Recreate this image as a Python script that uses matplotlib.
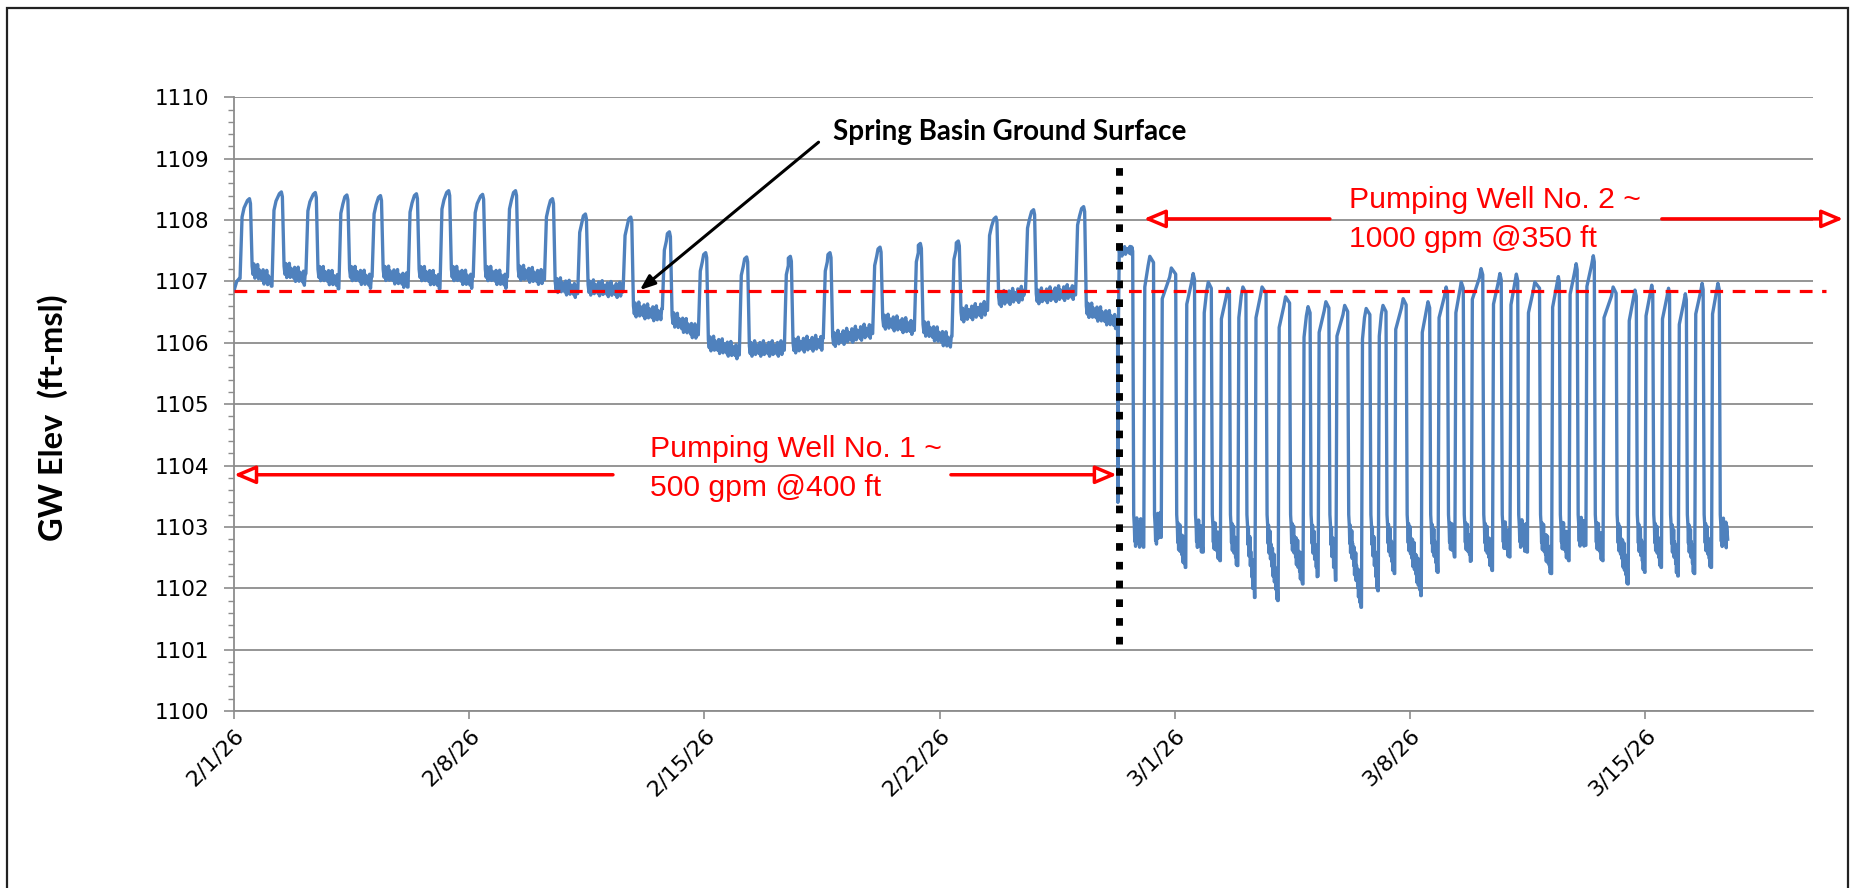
import numpy as np
import matplotlib.pyplot as plt
import matplotlib.dates as mdates
from matplotlib.patches import Rectangle
from datetime import datetime

plt.rcParams['font.family'] = ['DejaVu Sans']

T0 = mdates.date2num(datetime(2026, 2, 1))

# ---- Pumping Well No. 1 period: one recovery peak a day (days after 2/1/26) ----
p1_rise = [0.2, 1.15, 2.16, 3.14, 4.13, 5.2, 6.15, 7.14, 8.16, 9.26, 10.25, 11.6,
           12.77, 13.84, 15.06, 16.4, 17.56, 19.03, 20.27, 21.39, 22.45, 23.58, 25.07]
p1_drop = [0.5, 1.45, 2.46, 3.4, 4.4, 5.47, 6.43, 7.44, 8.42, 9.52, 10.5, 11.85,
           13.0, 14.08, 15.3, 16.6, 17.78, 19.27, 20.47, 21.6, 22.72, 23.84, 25.33]
p1_top = [1108.35, 1108.46, 1108.45, 1108.41, 1108.4, 1108.43, 1108.48, 1108.42,
          1108.48, 1108.35, 1108.1, 1108.05, 1107.81, 1107.47, 1107.4, 1107.41,
          1107.47, 1107.56, 1107.62, 1107.66, 1108.05, 1108.17, 1108.22]
p1_base_start = [1107.25, 1107.25, 1107.2, 1107.2, 1107.2, 1107.2, 1107.2, 1107.2,
                 1107.2, 1107.0, 1106.95, 1106.6, 1106.45, 1106.05, 1105.95, 1106.0,
                 1106.1, 1106.4, 1106.3, 1106.5, 1106.75, 1106.8, 1106.6]
p1_base_end = [1107.05, 1107.1, 1107.05, 1107.05, 1107.05, 1107.05, 1107.05, 1107.05,
               1107.1, 1106.9, 1106.9, 1106.5, 1106.2, 1105.9, 1105.95, 1106.05,
               1106.25, 1106.3, 1106.05, 1106.6, 1106.85, 1106.88, 1106.4]

# ---- Pumping Well No. 2 period: two cycles a day ----
p2_rise = [26.33, 27.08, 27.6, 28.33, 28.85, 29.36, 29.88, 30.39, 31.08, 31.82, 32.27,
           32.8, 33.56, 34.06, 34.55, 35.34, 35.84, 36.34, 36.83, 37.46, 37.98, 38.5,
           39.22, 39.74, 40.24, 40.75, 41.5, 42.0, 42.49, 42.99, 43.48, 43.98]
p2_top_day = [26.6, 27.26, 27.9, 28.55, 29.0, 29.58, 30.03, 30.6, 31.3, 31.97, 32.5,
              33.06, 33.7, 34.2, 34.8, 35.54, 36.08, 36.53, 37.12, 37.68, 38.17, 38.72,
              39.42, 39.95, 40.46, 41.05, 41.7, 42.2, 42.7, 43.2, 43.7, 44.17]
p2_drop = [26.76, 27.38, 28.04, 28.6, 29.1, 29.64, 30.13, 30.73, 31.43, 32.04, 32.6,
           33.16, 33.82, 34.3, 34.9, 35.6, 36.13, 36.6, 37.18, 37.73, 38.22, 38.87,
           39.46, 39.99, 40.5, 41.15, 41.75, 42.24, 42.74, 43.24, 43.74, 44.22]
p2_top = [1107.62, 1107.41, 1107.22, 1107.13, 1106.99, 1106.89, 1106.91, 1106.91,
          1106.75, 1106.59, 1106.67, 1106.61, 1106.56, 1106.61, 1106.72, 1106.67,
          1106.91, 1106.99, 1107.21, 1107.13, 1107.12, 1106.99, 1107.08, 1107.29,
          1107.42, 1106.91, 1106.86, 1106.94, 1106.89, 1106.8, 1106.97, 1106.97]
p2_low = [1102.67, 1102.83, 1102.34, 1102.59, 1102.45, 1102.37, 1101.85, 1101.8,
          1102.07, 1102.2, 1102.13, 1101.69, 1101.96, 1102.24, 1101.88, 1102.26,
          1102.51, 1102.45, 1102.29, 1102.51, 1102.59, 1102.24, 1102.45, 1102.7,
          1102.45, 1102.07, 1102.26, 1102.34, 1102.2, 1102.24, 1102.34, 1102.67]
end_day, end_level = 44.46, 1102.8

# small hand-read jitter of the transducer trace
wiggle = [0.0, -0.09, 0.04, -0.12, 0.02, -0.07, 0.06, -0.1, 0.01, -0.05]

ground_surface = 1106.84
switch_day = 26.34


def noisy(t0, t1, y0, y1, amp, pts):
    n = max(4, int((t1 - t0) * pts))
    ts = np.linspace(t0, t1, n)
    ys = [y0 + (y1 - y0) * k / (n - 1) + amp * wiggle[k % len(wiggle)] for k in range(n)]
    return list(ts), ys


t = [0.0, 0.08, 0.16]
y = [1106.85, 1107.0, 1107.05]
for i in range(len(p1_rise)):
    r, d, top = p1_rise[i], p1_drop[i], p1_top[i]
    t += [r - 0.02, r + 0.04, r + 0.1, d - 0.1, d - 0.04, d - 0.01]
    y += [y[-1], top - 0.3, top - 0.15, top - 0.03, top, top - 0.08]
    nxt = p1_rise[i + 1] if i + 1 < len(p1_rise) else 26.28
    tt, yy = noisy(d + 0.04, nxt - 0.04, p1_base_start[i], p1_base_end[i], 1.4, 40)
    t += tt
    y += yy

# start of well no. 2 test
t += [26.3, 26.31, 26.32]
y += [1106.4, 1103.4, 1106.0]
for i in range(len(p2_rise)):
    r, td, d, top, low = p2_rise[i], p2_top_day[i], p2_drop[i], p2_top[i], p2_low[i]
    if i == 0:
        tt, yy = noisy(r + 0.02, d - 0.01, 1107.5, 1107.55, 0.8, 40)
        t += tt
        y += yy
    else:
        t += [r, r + 0.03, td - 0.05, td, d - 0.01]
        y += [y[-1], top - 0.5, top - 0.15, top, top - 0.1]
    nxt = p2_rise[i + 1] if i + 1 < len(p2_rise) else end_day
    t += [d + 0.02]
    y += [1103.2]
    tt, yy = noisy(d + 0.04, nxt - 0.03, 1103.0, low + 0.3, 2.6, 90)
    t += tt
    y += yy
    if i + 1 < len(p2_rise):
        t += [nxt - 0.015]
        y += [low]
    else:
        t += [end_day]
        y += [end_level]

t = T0 + np.array(t)
y = np.array(y)

fig = plt.figure(figsize=(18.55, 8.88), dpi=100)
ax = fig.add_axes([234 / 1855, 1 - 711 / 888, (1813 - 234) / 1855, (711 - 97.4) / 888])

ax.plot(t, y, color='#4F81BD', lw=2.4, zorder=3)
ax.plot([T0, T0 + 47.4], [ground_surface] * 2, color='#FF0000', lw=2.3, ls=(0, (4, 3)),
        zorder=4, clip_on=False)
ax.plot([T0 + switch_day] * 2, [1101.1, 1108.95], color='black', lw=5,
        ls=(0, (1.1, 1.6)), solid_capstyle='butt', dash_capstyle='butt', zorder=5)

ax.set_xlim(T0, T0 + 47)
ax.set_ylim(1100, 1110)
ax.set_yticks(np.arange(1100, 1111, 1))
ax.set_yticks(np.arange(1100, 1110.01, 0.2), minor=True)
ax.set_xticks(T0 + np.arange(0, 47, 7))
ax.xaxis.set_major_formatter(mdates.DateFormatter('%-m/%-d/%y'))
ax.grid(axis='y', which='major', color='#8C8C8C', lw=1.3)
ax.set_axisbelow(True)
for s in ['top', 'right']:
    ax.spines[s].set_visible(False)
for s in ['left', 'bottom']:
    ax.spines[s].set_color('#8C8C8C')
    ax.spines[s].set_linewidth(1.3)
ax.tick_params(axis='y', which='major', direction='out', length=7, width=1.2,
               color='#8C8C8C', labelsize=15.5, pad=11)
ax.tick_params(axis='y', which='minor', direction='out', length=4, width=1.0, color='#8C8C8C')
ax.tick_params(axis='x', direction='out', length=6, width=1.2, color='#8C8C8C',
               labelsize=16, pad=4)
for lab in ax.get_xticklabels():
    lab.set_rotation(45)
    lab.set_ha('right')
    lab.set_va('top')
    lab.set_rotation_mode('anchor')

fig.text(53 / 1855, 1 - 418 / 888, 'GW Elev  (ft-msl)', rotation=90, ha='center', va='center',
         fontsize=23.5, fontweight='bold', family=['Lato', 'DejaVu Sans'])

# annotations
ax.text(T0 + 17.83, 1109.44, 'Spring Basin Ground Surface', ha='left', va='center',
        fontsize=20, fontweight='bold', family=['Lato', 'DejaVu Sans'])
ax.annotate('', xy=(T0 + 12.08, 1106.86), xytext=(T0 + 17.4, 1109.27),
            arrowprops=dict(arrowstyle='-|>,head_length=0.9,head_width=0.35',
                            color='black', lw=2.2, shrinkA=0, shrinkB=0))

red = '#FF0000'
hollow = dict(arrowstyle='-|>,head_length=1.3,head_width=0.55', fc='white', ec=red,
              lw=2.5, shrinkA=0, shrinkB=0)
ax.text(T0 + 12.38, 1104.27, 'Pumping Well No. 1 ~', color=red, fontsize=21.7,
        ha='left', va='center', family=['Liberation Sans', 'DejaVu Sans'])
ax.text(T0 + 12.38, 1103.64, '500 gpm @400 ft', color=red, fontsize=21.7,
        ha='left', va='center', family=['Liberation Sans', 'DejaVu Sans'])
ax.annotate('', xy=(T0 + 0.0, 1103.85), xytext=(T0 + 11.28, 1103.85),
            arrowprops=hollow, annotation_clip=False)
ax.annotate('', xy=(T0 + 26.28, 1103.85), xytext=(T0 + 21.34, 1103.85),
            arrowprops=hollow, annotation_clip=False)

ax.text(T0 + 33.2, 1108.32, 'Pumping Well No. 2 ~', color=red, fontsize=21.7,
        ha='left', va='center', family=['Liberation Sans', 'DejaVu Sans'])
ax.text(T0 + 33.2, 1107.7, '1000 gpm @350 ft', color=red, fontsize=21.7,
        ha='left', va='center', family=['Liberation Sans', 'DejaVu Sans'])
ax.annotate('', xy=(T0 + 27.08, 1108.02), xytext=(T0 + 32.62, 1108.02),
            arrowprops=hollow, annotation_clip=False)
ax.annotate('', xy=(T0 + 47.9, 1108.02), xytext=(T0 + 42.5, 1108.02),
            arrowprops=hollow, annotation_clip=False)

# outer chart frame
fig.patches.append(Rectangle((7 / 1855, -0.05), (1848 - 7) / 1855, 1.05 - 8 / 888,
                             transform=fig.transFigure, fill=False, ec='#222222', lw=1.6))

fig.savefig('out.png', dpi=100)
